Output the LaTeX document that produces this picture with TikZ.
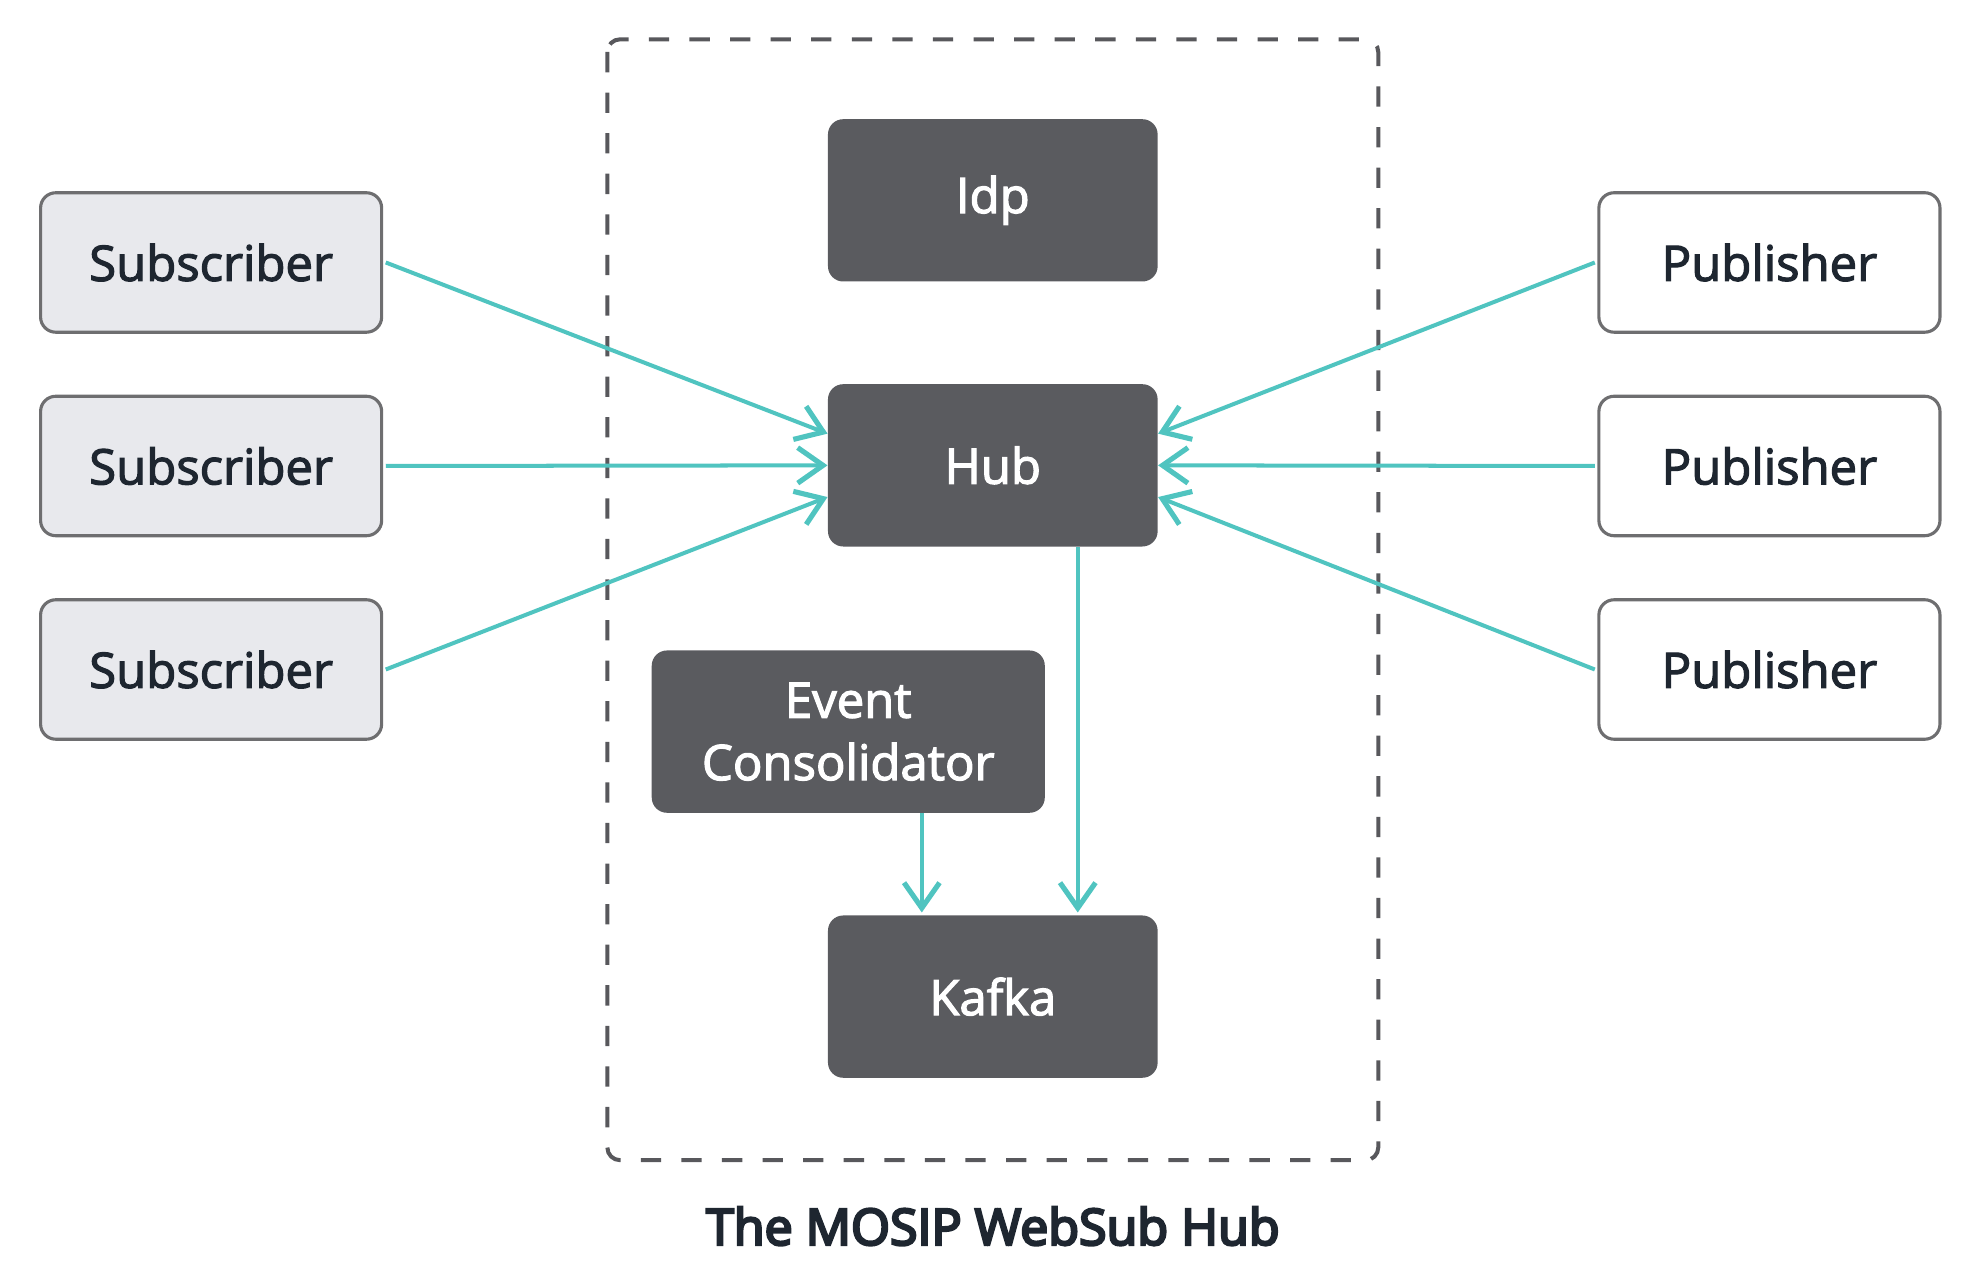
\documentclass[tikz,border=0pt]{standalone}
\usepackage{fontspec}
\setmainfont{Open Sans}
\newfontfamily\labelfont{Open Sans}[FakeBold=2.4]
\newfontfamily\titlefont{Open Sans}[FakeBold=5]
\usepackage{tikz}
\usetikzlibrary{arrows.meta, positioning}
\definecolor{boxdark}{RGB}{90, 91, 95}
\definecolor{boxlight}{RGB}{232, 233, 237}
\definecolor{boxedge}{RGB}{110, 110, 112}
\definecolor{teal1}{RGB}{80, 196, 192}
\definecolor{ink}{RGB}{30, 38, 48}
\definecolor{frame}{RGB}{88, 88, 92}

\begin{document}
\begin{tikzpicture}[
  dbox/.style={fill=boxdark, rounded corners=0.24cm, minimum width=5.2cm, minimum height=2.56cm, align=center, text=white, font=\labelfont\fontsize{22}{28}\selectfont},
  sbox/.style={draw=boxedge, line width=1.4pt, fill=boxlight, rounded corners=0.24cm, minimum width=5.38cm, minimum height=2.2cm, text=ink, font=\labelfont\fontsize{22}{28}\selectfont},
  pbox/.style={sbox, fill=white},
  arr/.style={draw=teal1, line width=1.8pt, -{Straight Barb[length=0.4cm, width=0.56cm, line width=2.3pt]}}
]
  \useasboundingbox (0,0) rectangle (31.2,-20.28);
  % the hub frame
  \draw[frame, line width=1.8pt, dash pattern=on 0.32cm off 0.32cm, rounded corners=0.2cm] (9.58,-0.62) rectangle (21.74,-18.3);
  \node[dbox] (idp) at (15.66, -3.16) {Idp};
  \node[dbox] (hub) at (15.66, -7.34) {Hub};
  \node[dbox, minimum width=6.2cm] (ev) at (13.38, -11.54) {Event\\Consolidator};
  \node[dbox] (kafka) at (15.66, -15.72) {Kafka};
  \node[font=\titlefont\fontsize{22.5}{27}\selectfont, text=ink] (title) at (15.66, -19.34) {The MOSIP WebSub Hub};

  \node[sbox] (s1) at (3.33, -4.14) {Subscriber};
  \node[sbox] (s2) at (3.33, -7.35) {Subscriber};
  \node[sbox] (s3) at (3.33, -10.56) {Subscriber};
  \node[pbox] (p1) at (27.91, -4.14) {Publisher};
  \node[pbox] (p2) at (27.91, -7.35) {Publisher};
  \node[pbox] (p3) at (27.91, -10.56) {Publisher};

  \draw[arr] ([xshift=0.04cm]s1.east) -- ([yshift=0.5cm]hub.west);
  \draw[arr] ([xshift=0.04cm]s2.east) -- (hub.west);
  \draw[arr] ([xshift=0.04cm]s3.east) -- ([yshift=-0.5cm]hub.west);
  \draw[arr] ([xshift=-0.04cm]p1.west) -- ([yshift=0.5cm]hub.east);
  \draw[arr] ([xshift=-0.04cm]p2.west) -- (hub.east);
  \draw[arr] ([xshift=-0.04cm]p3.west) -- ([yshift=-0.5cm]hub.east);

  \coordinate (hubout) at ([xshift=1.34cm]hub.south);
  \coordinate (evout) at ([xshift=1.16cm]ev.south);
  \draw[arr] (hubout) -- ([yshift=0.04cm]hubout |- kafka.north);
  \draw[arr] (evout) -- ([yshift=0.04cm]evout |- kafka.north);
\end{tikzpicture}
\end{document}
